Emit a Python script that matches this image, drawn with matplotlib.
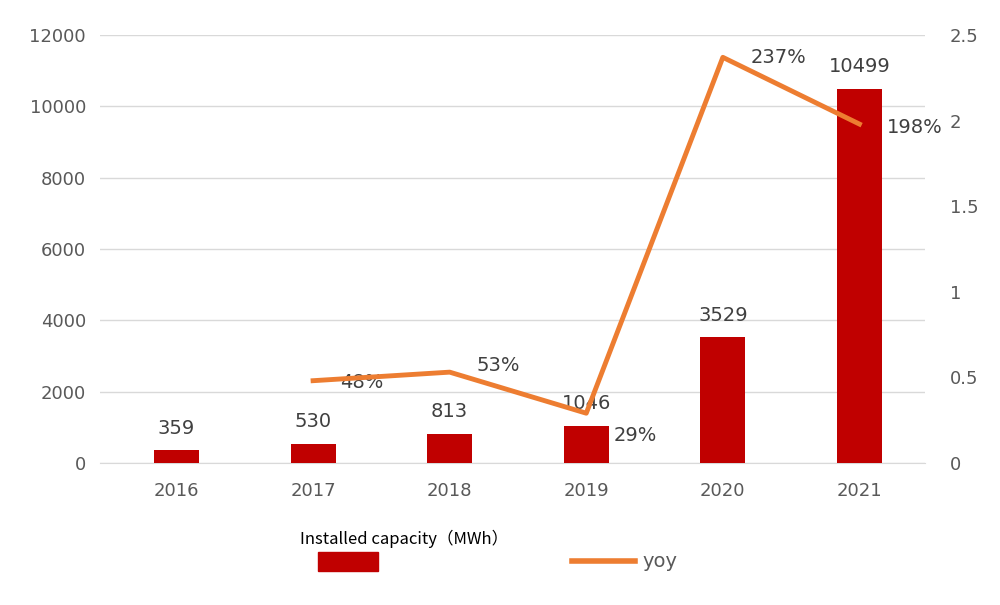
import matplotlib.pyplot as plt
import numpy as np

years = ["2016", "2017", "2018", "2019", "2020", "2021"]
capacity = [359, 530, 813, 1046, 3529, 10499]
yoy_years = ["2017", "2018", "2019", "2020", "2021"]
yoy = [0.48, 0.53, 0.29, 2.37, 1.98]
yoy_labels = ["48%", "53%", "29%", "237%", "198%"]

red = "#C00000"
orange = "#ED7D31"
gray = "#595959"

fig = plt.figure(figsize=(10, 6.05), dpi=100)
ax = fig.add_axes([0.10, 0.235, 0.825, 0.707])
x = np.arange(len(years))
ax.bar(x, capacity, width=0.33, color=red, zorder=3)
ax.set_ylim(0, 12000)
ax.set_xlim(-0.56, 5.48)
ax.set_yticks(np.arange(0, 12001, 2000))
ax.set_xticks(x)
ax.set_xticklabels(years)
ax.grid(axis="y", color="#D9D9D9", linewidth=1, zorder=0)
for s in ax.spines.values():
    s.set_visible(False)
ax.spines["bottom"].set_visible(True)
ax.spines["bottom"].set_color("#D9D9D9")
ax.tick_params(length=0, labelsize=13, colors=gray, pad=14)
ax.tick_params(axis="y", pad=10)
for xi, v in zip(x, capacity):
    ax.text(xi, v + 350, str(v), ha="center", va="bottom", fontsize=14, color="#404040")

ax2 = ax.twinx()
xl = [years.index(y) for y in yoy_years]
ax2.plot(xl, yoy, color=orange, linewidth=3.5, zorder=4)
ax2.set_ylim(0, 2.5)
ax2.set_yticks([0, 0.5, 1, 1.5, 2, 2.5])
ax2.set_yticklabels(["0", "0.5", "1", "1.5", "2", "2.5"])
for s in ax2.spines.values():
    s.set_visible(False)
ax2.tick_params(length=0, labelsize=13, colors=gray, pad=18)
offsets = [(0.2, -0.01), (0.2, 0.04), (0.2, -0.13), (0.2, 0.0), (0.2, -0.02)]
for xi, v, lab, (dx, dy) in zip(xl, yoy, yoy_labels, offsets):
    ax2.text(xi + dx, v + dy, lab, ha="left", va="center", fontsize=14, color="#404040")

fig.text(0.30, 0.11, "Installed capacity（MWh）", fontsize=12, color="black", fontweight="medium",
         family=["Noto Sans CJK SC", "DejaVu Sans"], va="center")
fig.patches.append(plt.Rectangle((0.318, 0.057), 0.06, 0.03, color=red, transform=fig.transFigure))
fig.lines.append(plt.Line2D([0.572, 0.635], [0.072, 0.072], color=orange, linewidth=4, transform=fig.transFigure))
fig.text(0.642, 0.072, "yoy", fontsize=14, color=gray, va="center")

fig.savefig("out.png")
